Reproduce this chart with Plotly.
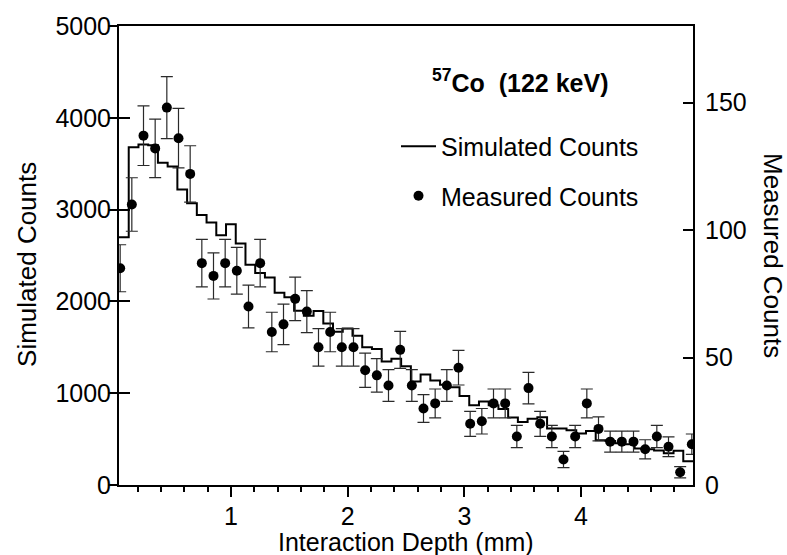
import numpy as np
import plotly.graph_objects as go

# ---------------- data ----------------
# Measured counts (right axis), one point every 0.1 mm starting at 0.05 mm
depth_measured = [round(0.05 + 0.1 * i, 2) for i in range(50)]
measured_counts = [85, 110, 137, 132, 148, 136, 122, 87, 82, 87,
                   84, 70, 87, 60, 63, 73, 68, 54, 60, 54,
                   54, 45, 43, 39, 53, 39, 30, 32, 39, 46,
                   24, 25, 32, 32, 19, 38, 24, 19, 10, 19,
                   32, 22, 17, 17, 17, 14, 19, 15, 5, 16]
# Poisson uncertainty of the measured counts
measured_err = list(np.sqrt(measured_counts))

# Simulated counts (left axis), histogram bins
sim_bin_start = 0.04
sim_bin_stop = 4.96
simulated_counts = [2700, 3680, 3710, 3700, 3510, 3470, 3220, 3070, 2940, 2860,
                    2720, 2840, 2630, 2400, 2310, 2260, 2095, 2045, 1898, 1845,
                    1895, 1760, 1670, 1706, 1627, 1500, 1482, 1345, 1374, 1294,
                    1128, 1204, 1139, 1092, 1066, 970, 870, 910, 868, 828,
                    734, 687, 723, 737, 615, 615, 597, 560, 588, 488,
                    480, 455, 443, 398, 390, 377, 347, 372, 260]
n_bins = len(simulated_counts)
sim_edges = list(np.linspace(sim_bin_start, sim_bin_stop, n_bins + 1))

x_ticks = [1, 2, 3, 4]
left_ticks = [0, 1000, 2000, 3000, 4000, 5000]
right_ticks = [0, 50, 100, 150]

# ---------------- layout constants ----------------
W, H = 787, 555
L, R, T, B = 119, 94, 24, 70
PW, PH = W - L - R, H - T - B
FONT = "Liberation Sans, Arial, sans-serif"
FS = 25


def px_to_paper_x(px):
    return (px - L) / PW


def px_to_paper_y(py):
    return (H - B - py) / PH


fig = go.Figure()

# Simulated histogram (step line)
fig.add_trace(go.Scatter(
    x=sim_edges,
    y=simulated_counts + [simulated_counts[-1]],
    mode="lines",
    line=dict(color="black", width=2, shape="hv"),
    name="Simulated Counts",
    legendgroup="a",
    yaxis="y",
))

# Measured points with error bars
fig.add_trace(go.Scatter(
    x=depth_measured,
    y=measured_counts,
    mode="markers",
    marker=dict(color="black", size=10),
    error_y=dict(type="data", array=measured_err, visible=True,
                 color="#2a2a2a", thickness=1.2, width=6),
    name="Measured Counts",
    legendgroup="b",
    yaxis="y2",
))

# dummy trace to activate the inner-tick axis
fig.add_trace(go.Scatter(x=[sim_bin_start], y=[0], yaxis="y3", showlegend=False,
                         mode="markers", marker=dict(opacity=0),
                         hoverinfo="skip"))

fig.update_layout(
    width=W, height=H,
    margin=dict(l=L, r=R, t=T, b=B),
    paper_bgcolor="white", plot_bgcolor="white",
    font=dict(family=FONT, size=FS, color="black"),
    showlegend=True,
    legend=dict(
        x=px_to_paper_x(396), y=px_to_paper_y(122),
        xanchor="left", yanchor="top",
        bgcolor="rgba(0,0,0,0)",
        font=dict(size=FS, family=FONT),
        traceorder="grouped", tracegroupgap=14,
        itemwidth=35,
    ),
    xaxis=dict(
        range=[sim_bin_start, sim_bin_stop],
        tickvals=x_ticks, ticktext=[str(v) for v in x_ticks],
        ticks="outside", ticklen=10, tickwidth=2, tickcolor="black",
        minor=dict(dtick=0.2, tick0=0, ticks="outside", ticklen=5,
                   tickwidth=1.5, tickcolor="black", showgrid=False),
        showline=True, linecolor="black", linewidth=2, mirror=True,
        showgrid=False, zeroline=False,
        ticklabelstandoff=-2,
        tickfont=dict(size=FS),
    ),
    yaxis=dict(
        range=[0, 5000], tickvals=left_ticks,
        ticks="outside", ticklen=9, tickwidth=2, tickcolor="black",
        showline=True, linecolor="black", linewidth=2,
        showgrid=False, zeroline=False,
        ticklabelstandoff=-8,
        tickfont=dict(size=FS),
    ),
    yaxis3=dict(
        range=[0, 5000], tickvals=left_ticks, overlaying="y", side="left",
        anchor="x",
        ticks="inside", ticklen=11, tickwidth=2, tickcolor="black",
        showticklabels=False, showline=False,
        showgrid=False, zeroline=False,
    ),
    yaxis2=dict(
        range=[0, 180], tickvals=right_ticks, overlaying="y", side="right",
        anchor="x",
        ticks="inside", ticklen=10, tickwidth=2, tickcolor="black",
        showline=True, linecolor="black", linewidth=2,
        showgrid=False, zeroline=False,
        ticklabelstandoff=5,
        tickfont=dict(size=FS),
    ),
    annotations=[
        dict(text="Interaction Depth (mm)", xref="paper", yref="paper",
             x=0.5, y=px_to_paper_y(542), xanchor="center", yanchor="middle",
             showarrow=False, font=dict(size=FS)),
        dict(text="Simulated Counts", xref="paper", yref="paper",
             x=px_to_paper_x(27), y=px_to_paper_y(264), textangle=-90,
             xanchor="center", yanchor="middle", showarrow=False,
             font=dict(size=26)),
        dict(text="Measured Counts", xref="paper", yref="paper",
             x=px_to_paper_x(773), y=px_to_paper_y(254), textangle=90,
             xanchor="center", yanchor="middle", showarrow=False,
             font=dict(size=26)),
        dict(text="<b><sup>57</sup>Co  (122 keV)</b>", xref="paper", yref="paper",
             x=px_to_paper_x(430), y=px_to_paper_y(79),
             xanchor="left", yanchor="middle", showarrow=False,
             font=dict(size=FS)),
    ],
)

fig.write_html("out.html")
